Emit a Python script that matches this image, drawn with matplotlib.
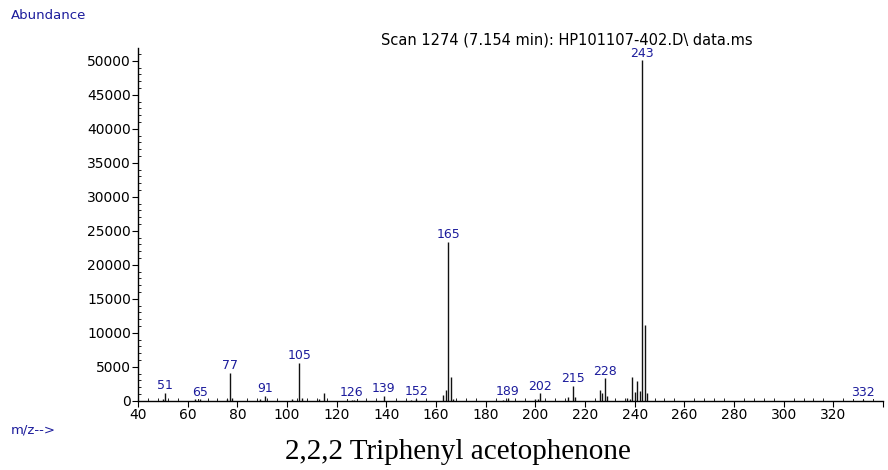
import numpy as np
import matplotlib
matplotlib.use("Agg")
import matplotlib.pyplot as plt
from matplotlib.ticker import MultipleLocator

# mass spectrum: m/z and abundance of each ion
mz = [50, 51, 63, 65, 76, 77, 78, 89, 91, 102, 105, 106, 113, 115, 126, 127, 139, 150,
      152, 163, 164, 165, 166, 167, 187, 189, 200, 201, 202, 213, 215, 216, 226, 227,
      228, 229, 237, 238, 239, 240, 241, 242, 243, 244, 245, 332]
abundance = [250, 1180, 200, 200, 250, 4120, 350, 200, 690, 200, 5590, 450, 300, 1180,
             150, 150, 690, 150, 250, 900, 1570, 23400, 3430, 300, 150, 350, 300, 300,
             1080, 600, 2160, 500, 1570, 1080, 3280, 700, 350, 300, 3530, 1230, 2890,
             1420, 50100, 11130, 1180, 120]

# peaks that carry an m/z label
labelled = [51, 65, 77, 91, 105, 126, 139, 152, 165, 189, 202, 215, 228, 243, 332]

title = "Scan 1274 (7.154 min): HP101107-402.D\\ data.ms"
compound = "2,2,2 Triphenyl acetophenone"

blue = "#1c1c9c"
tick_font = "DejaVu Sans"

fig = plt.figure(figsize=(8.88, 4.70), dpi=100)
ax = fig.add_axes([0.1554, 0.1474, 0.8390, 0.7505])

ax.vlines(mz, 0, abundance, colors="#111111", linewidth=1.0)

lookup = dict(zip(mz, abundance))
for m in labelled:
    ax.annotate(str(m), (m, lookup[m]), xytext=(0, 0.5), textcoords="offset points",
                ha="center", va="bottom", color=blue, fontsize=9, family=tick_font,
                bbox=dict(fc="white", ec="none", pad=0.1))

ax.set_xlim(40, 340)
ax.set_ylim(0, 51900)
ax.xaxis.set_minor_locator(MultipleLocator(4))
ax.yaxis.set_major_locator(MultipleLocator(5000))
ax.yaxis.set_minor_locator(MultipleLocator(1000))
ax.set_xticks(np.arange(40, 341, 20))
ax.set_xticklabels([str(v) for v in range(40, 321, 20)] + [""])

for side in ("top", "right"):
    ax.spines[side].set_visible(False)
for side in ("left", "bottom"):
    ax.spines[side].set_linewidth(1.0)

ax.tick_params(which="major", direction="out", length=4, width=0.8, pad=1,
               labelsize=10)
ax.tick_params(which="minor", direction="in", length=2.5, width=0.6)
for lab in ax.get_xticklabels() + ax.get_yticklabels():
    lab.set_family(tick_font)

ax.set_title(title, fontsize=10.5, family=tick_font, pad=1.5, x=0.575)

fig.text(0.012, 0.968, "Abundance", color=blue, fontsize=9.5, family=tick_font,
         va="center")
fig.text(0.012, 0.085, "m/z-->", color=blue, fontsize=9.5, family=tick_font,
         va="center")
fig.text(0.516, 0.038, compound, fontsize=21, family="Liberation Serif",
         ha="center", va="center")

fig.savefig("out.png", dpi=100)
